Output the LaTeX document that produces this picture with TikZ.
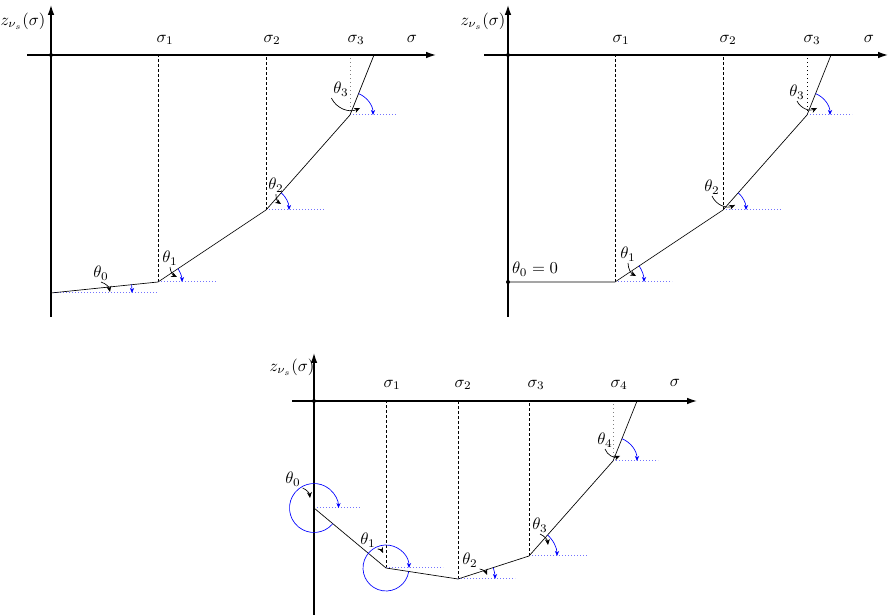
\documentclass[tikz,border=0pt]{standalone}
\usetikzlibrary{arrows.meta}
\tikzset{
  axis/.style={thick,-{Latex[length=6pt,width=4pt]}},
  guide/.style={dash pattern=on 1.8pt off 1.2pt},
  faint/.style={dotted,gray},
  level/.style={dash pattern=on 0.6pt off 1.2pt,blue!55,semithick},
  turn/.style={blue,-{Stealth[length=3pt,width=2.5pt]}},
  pointer/.style={-{Stealth[length=3.5pt,width=3pt]}},
  lbl/.style={inner sep=1pt}
}
\begin{document}
\begin{tikzpicture}[x=0.6pt,y=0.6pt]
\useasboundingbox (0,0) rectangle (889,616);

% upper left panel
\begin{scope}[shift={(51,561)}]
    \coordinate (tlO) at (0,0);
    \coordinate (tl0) at (0,-238);
    \coordinate (tl1) at (107,-227);
    \coordinate (tl2) at (215,-155);
    \coordinate (tl3) at (299,-60);
    \coordinate (tl4) at (323,0);
    \draw[guide] (tl1) -- (tl1 |- tlO);
    \draw[guide] (tl2) -- (tl2 |- tlO);
    \draw[faint] (tl3) -- (tl3 |- tlO);
    \draw[level] (tl0) -- +(107,0);
    \draw[level] (tl1) -- +(58,0);
    \draw[level] (tl2) -- +(58,0);
    \draw[level] (tl3) -- +(46,0);
    \draw[axis] (-24,0) -- (385,0);
    \draw[axis] (0,-262) -- (0,50);
    \fill (tlO) circle[radius=2];
    \draw (tl0) -- (tl1) -- (tl2) -- (tl3) -- (tl4);
    \draw[turn] (tl0) ++(5.9:81) arc[start angle=5.9,end angle=0,radius=81];
    \draw[turn] (tl1) ++(33.7:24) arc[start angle=33.7,end angle=0,radius=24];
    \draw[turn] (tl2) ++(48.5:23) arc[start angle=48.5,end angle=0,radius=23];
    \draw[turn] (tl3) ++(68.2:23) arc[start angle=68.2,end angle=0,radius=23];
    \node (tlz) at (-28,34) {$z_{\nu_s}(\sigma)$};
    \node (tls1) at (114,15) {$\sigma_1$};
    \node (tls2) at (221,15) {$\sigma_2$};
    \node (tls3) at (305,15) {$\sigma_3$};
    \node (tls) at (361,16) {$\sigma$};
    \node[lbl] (tlt0) at (50,-218) {$\theta_0$};
    \node[lbl] (tlt1) at (119,-203) {$\theta_1$};
    \node[lbl] (tlt2) at (225,-130) {$\theta_2$};
    \node[lbl] (tlt3) at (290,-34) {$\theta_3$};
    \coordinate (tlq0) at (59,-237);
    \coordinate (tlq1) at (126,-222);
    \coordinate (tlq2) at (230,-149);
    \coordinate (tlq3) at (309,-53);
    \draw[pointer] (tlt0.south) to[bend left] (tlq0);
    \draw[pointer] (tlt1.south) to[bend right] (tlq1);
    \draw[pointer] (tlt2.south) to[bend right] (tlq2);
    \draw[pointer] (tlt3.south west) to[bend right=45] (tlq3);
\end{scope}

% upper right panel
\begin{scope}[shift={(508,561)}]
    \coordinate (trO) at (0,0);
    \coordinate (tr0) at (0,-227);
    \coordinate (tr1) at (107,-227);
    \coordinate (tr2) at (215,-155);
    \coordinate (tr3) at (299,-60);
    \coordinate (tr4) at (323,0);
    \draw[guide] (tr1) -- (tr1 |- trO);
    \draw[guide] (tr2) -- (tr2 |- trO);
    \draw[dotted] (tr3) -- (tr3 |- trO);
    \draw[level] (tr1) -- +(57,0);
    \draw[level] (tr2) -- +(58,0);
    \draw[level] (tr3) -- +(45,0);
    \draw[axis] (-24,0) -- (380,0);
    \draw[axis] (0,-262) -- (0,50);
    \fill (trO) circle[radius=2];
    \fill (tr0) circle[radius=2];
    \draw (tr0) -- (tr1) -- (tr2) -- (tr3) -- (tr4);
    \draw[turn] (tr1) ++(33.9:29) arc[start angle=33.9,end angle=0,radius=29];
    \draw[turn] (tr2) ++(48.5:23) arc[start angle=48.5,end angle=0,radius=23];
    \draw[turn] (tr3) ++(68.2:23) arc[start angle=68.2,end angle=0,radius=23];
    \node (trz) at (-25,34) {$z_{\nu_s}(\sigma)$};
    \node (trs1) at (113,15) {$\sigma_1$};
    \node (trs2) at (220,15) {$\sigma_2$};
    \node (trs3) at (304,15) {$\sigma_3$};
    \node (trs) at (361,16) {$\sigma$};
    \node[lbl] (trt0) at (27,-214) {$\theta_0 = 0$};
    \node[lbl] (trt1) at (120,-199) {$\theta_1$};
    \node[lbl] (trt2) at (204,-132) {$\theta_2$};
    \node[lbl] (trt3) at (289,-37) {$\theta_3$};
    \coordinate (trq1) at (128,-221);
    \coordinate (trq2) at (227,-150);
    \coordinate (trq3) at (309,-53);
    \draw[pointer] (trt1.south) to[bend right] (trq1);
    \draw[pointer] (trt2.south) to[bend right=45] (trq2);
    \draw[pointer] (trt3.south) to[bend right=45] (trq3);
\end{scope}

% lower panel
\begin{scope}[shift={(314,215)}]
    \coordinate (btO) at (0,0);
    \coordinate (bt0) at (0,-107);
    \coordinate (bt1) at (72,-167);
    \coordinate (bt2) at (144,-178);
    \coordinate (bt3) at (215,-155);
    \coordinate (bt4) at (299,-60);
    \coordinate (bt5) at (323,0);
    \draw[guide] (bt1) -- (bt1 |- btO);
    \draw[guide] (bt2) -- (bt2 |- btO);
    \draw[guide] (bt3) -- (bt3 |- btO);
    \draw[faint] (bt4) -- (bt4 |- btO);
    \draw[level] (bt0) -- +(46,0);
    \draw[level] (bt1) -- +(57,0);
    \draw[level] (bt2) -- +(57,0);
    \draw[level] (bt3) -- +(58,0);
    \draw[level] (bt4) -- +(45,0);
    \draw[axis] (-22,0) -- (383,0);
    \draw[axis] (0,-214) -- (0,48);
    \fill (btO) circle[radius=2];
    \draw (bt0) -- (bt1) -- (bt2) -- (bt3) -- (bt4) -- (bt5);
    \draw[turn] (bt0) ++(320.2:24.5) arc[start angle=320.2,end angle=0,radius=24.5];
    \draw[turn] (bt1) ++(351.3:23) arc[start angle=351.3,end angle=0,radius=23];
    \draw[turn] (bt2) ++(17.9:37) arc[start angle=17.9,end angle=0,radius=37];
    \draw[turn] (bt3) ++(48.5:28) arc[start angle=48.5,end angle=0,radius=28];
    \draw[turn] (bt4) ++(68.2:24) arc[start angle=68.2,end angle=0,radius=24];
    \node (btz) at (-22,34) {$z_{\nu_s}(\sigma)$};
    \node (bts1) at (78,16) {$\sigma_1$};
    \node (bts2) at (149,16) {$\sigma_2$};
    \node (bts3) at (222,16) {$\sigma_3$};
    \node (bts4) at (305,16) {$\sigma_4$};
    \node (bts) at (361,18) {$\sigma$};
    \node[lbl] (btt0) at (-21,-78) {$\theta_0$};
    \node[lbl] (btt1) at (54,-139) {$\theta_1$};
    \node[lbl] (btt2) at (156,-159) {$\theta_2$};
    \node[lbl] (btt3) at (226,-124) {$\theta_3$};
    \node[lbl] (btt4) at (291,-39) {$\theta_4$};
    \coordinate (btq0) at (-4,-97);
    \coordinate (btq1) at (69,-152);
    \coordinate (btq2) at (173,-174);
    \coordinate (btq3) at (234,-144);
    \coordinate (btq4) at (306,-55);
    \draw[pointer] (btt0.south east) to[bend left] (btq0);
    \draw[pointer] (btt1.south east) to[bend left] (btq1);
    \draw[pointer] (btt2.south east) to[bend left] (btq2);
    \draw[pointer] (btt3.south) to[bend left] (btq3);
    \draw[pointer] (btt4.south) to[bend right=45] (btq4);
\end{scope}
\end{tikzpicture}
\end{document}
